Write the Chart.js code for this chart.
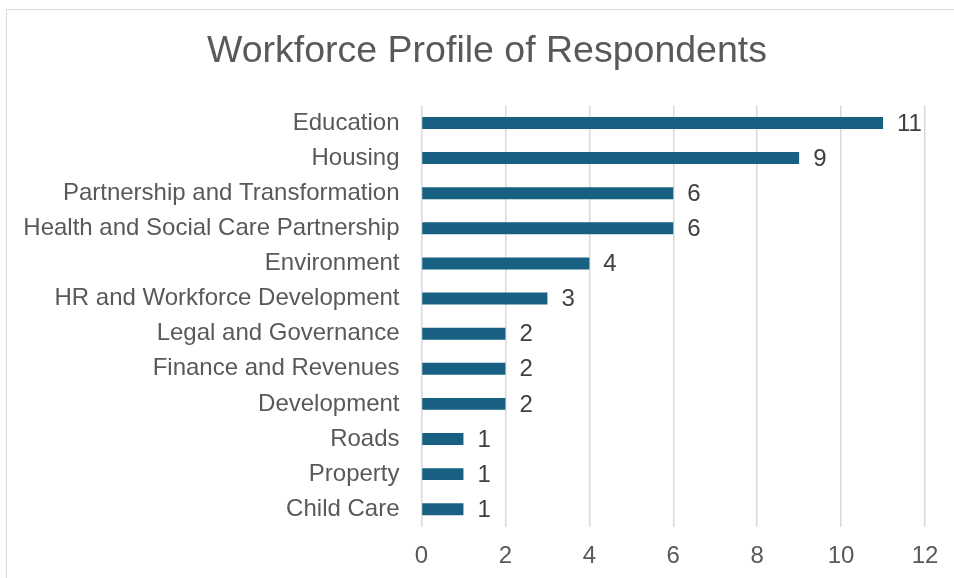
<!DOCTYPE html>
<html>
<head>
<meta charset="utf-8">
<script src="https://cdn.jsdelivr.net/npm/chart.js@4"></script>
<style>
  html, body { margin: 0; padding: 0; background: #fff; }
  #wrap { position: relative; width: 954px; height: 578px; overflow: hidden; }
  #frame { position: absolute; left: 6px; top: 9px; width: 980px; height: 600px;
           border: 1px solid #d9d9d9; box-sizing: border-box; pointer-events: none; }
  canvas { position: absolute; left: 0; top: 0; }
</style>
</head>
<body>
<div id="wrap">
  <canvas id="myChart" width="954" height="578"></canvas>
  <div id="frame"></div>
</div>
<script>
var categories = [
  'Education',
  'Housing',
  'Partnership and Transformation',
  'Health and Social Care Partnership',
  'Environment',
  'HR and Workforce Development',
  'Legal and Governance',
  'Finance and Revenues',
  'Development',
  'Roads',
  'Property',
  'Child Care'
];
var respondents = [11, 9, 6, 6, 4, 3, 2, 2, 2, 1, 1, 1];
var chartTitle = 'Workforce Profile of Respondents';

const fontFamily = '"Liberation Sans", Arial, sans-serif';

// title is centred on the original (wider) chart frame, not the canvas
const titleText = {
  id: 'titleText',
  afterDraw(chart) {
    const c = chart.ctx;
    c.save();
    c.font = '37.5px ' + fontFamily;
    c.fillStyle = '#595959';
    c.textAlign = 'center';
    c.textBaseline = 'alphabetic';
    c.fillText(chartTitle, 487, 62);
    c.restore();
  }
};

// value labels drawn next to each bar end
const valueLabels = {
  id: 'valueLabels',
  afterDatasetsDraw(chart) {
    const c = chart.ctx;
    const meta = chart.getDatasetMeta(0);
    c.save();
    c.font = '24px ' + fontFamily;
    c.fillStyle = '#404040';
    c.textAlign = 'left';
    c.textBaseline = 'middle';
    meta.data.forEach((bar, i) => {
      c.fillText(String(respondents[i]), bar.x + 14, bar.y + 1);
    });
    c.restore();
  }
};

const ctx = document.getElementById('myChart').getContext('2d');
const myChart = new Chart(ctx, {
  type: 'bar',
  data: {
    labels: categories,
    datasets: [{
      label: 'Respondents',
      data: respondents,
      backgroundColor: '#176082',
      borderWidth: 0,
      barPercentage: 0.34,
      categoryPercentage: 1
    }]
  },
  plugins: [valueLabels, titleText],
  options: {
    indexAxis: 'y',
    responsive: false,
    animation: false,
    layout: {
      padding: { left: 0, right: 29, top: 105.4, bottom: 0 }
    },
    plugins: {
      legend: { display: false },
      tooltip: { enabled: false },
      title: { display: false }
    },
    scales: {
      x: {
        min: 0,
        max: 12,
        ticks: {
          stepSize: 2,
          color: '#595959',
          padding: 15,
          font: { family: fontFamily, size: 24 }
        },
        grid: {
          color: '#d9d9d9',
          lineWidth: 1.5,
          drawTicks: false
        },
        border: { display: false },
        afterFit(scale) { scale.height = 51.2; }
      },
      y: {
        ticks: {
          color: '#595959',
          padding: 22,
          font: { family: fontFamily, size: 24 }
        },
        grid: { display: false, drawTicks: false },
        border: { display: false },
        afterFit(scale) { scale.width = 421.5; }
      }
    }
  }
});
</script>
</body>
</html>
